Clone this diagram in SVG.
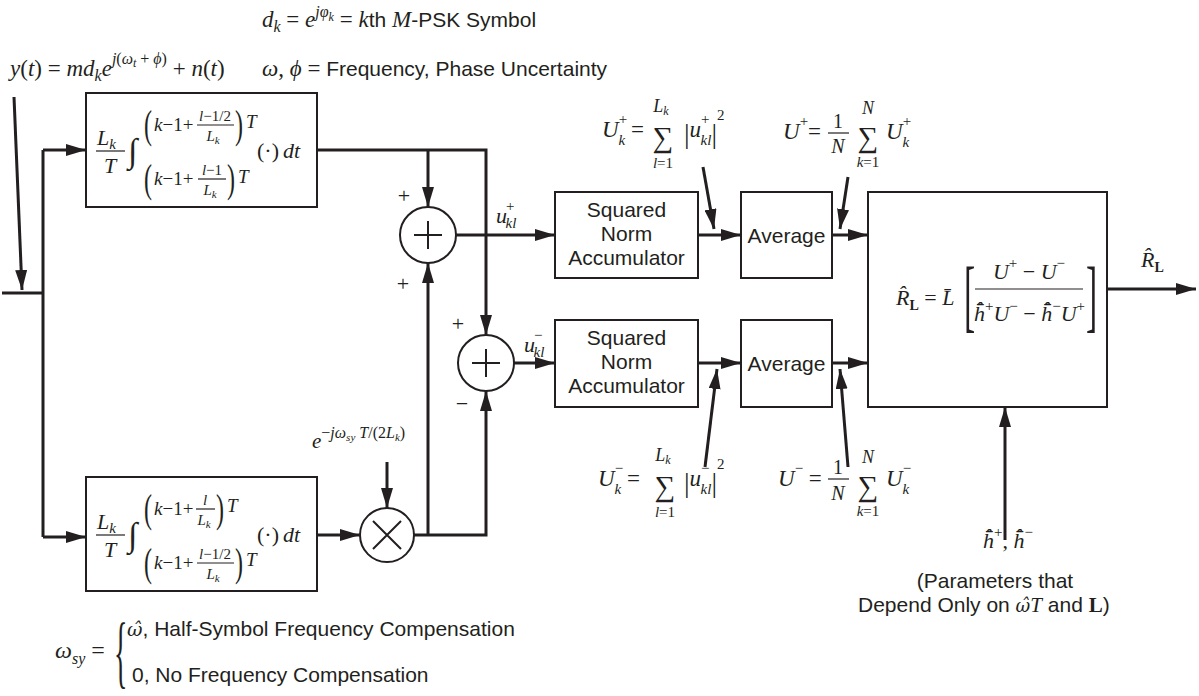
<svg xmlns="http://www.w3.org/2000/svg" width="1199" height="696" viewBox="0 0 1199 696">
<defs>
<marker id="ah" viewBox="0 0 20 12" refX="20" refY="6" markerWidth="20" markerHeight="12" markerUnits="userSpaceOnUse" orient="auto"><path d="M0,0 L20,6 L0,12 z" fill="#231f20"/></marker>
</defs>
<style>
text { fill: #231f20; }
.m { font-family: "Liberation Serif", "Times New Roman", serif; font-style: italic; }
.r { font-family: "Liberation Serif", "Times New Roman", serif; font-style: normal; }
.b { font-family: "Liberation Serif", "Times New Roman", serif; font-style: normal; font-weight: bold; }
.s { font-family: "Liberation Sans", Arial, sans-serif; font-style: normal; }
.g { font-family: "DejaVu Serif", "Liberation Serif", serif; font-style: italic; }
.c { text-anchor: middle; }
.box { fill: none; stroke: #231f20; stroke-width: 2; }
.ln { fill: none; stroke: #231f20; stroke-width: 3; }
.ar { marker-end: url(#ah); }
.th { stroke: #231f20; stroke-width: 1.2; }
.op { fill: none; stroke: #231f20; stroke-width: 2; }
</style>

<g id="header">
<text class="m" x="262" y="27" font-size="23">d<tspan font-size="16" dy="5">k</tspan><tspan class="r" dy="-5"> = </tspan>e<tspan font-size="16" dy="-10">jφ<tspan font-size="12" dy="4">k</tspan></tspan><tspan class="r" dy="6"> =  </tspan>k<tspan class="s" font-size="21">th </tspan>M<tspan class="s" font-size="21">-PSK Symbol</tspan></text>
<text class="m" x="10" y="76" font-size="23">y<tspan class="r">(</tspan>t<tspan class="r">) = </tspan>md<tspan font-size="16" dy="5">k</tspan><tspan dy="-5">e</tspan><tspan font-size="16" dy="-12">j<tspan class="r">(</tspan>ω<tspan font-size="12" dy="3">t</tspan><tspan class="r" dy="-3"> + </tspan>ϕ<tspan class="r">)</tspan></tspan><tspan class="r" dy="12"> + </tspan>n<tspan class="r">(</tspan>t<tspan class="r">)</tspan></text>
<text class="m" x="262" y="76" font-size="23">ω<tspan class="r">, </tspan>ϕ<tspan class="r"> =  </tspan><tspan class="s" font-size="21">Frequency, Phase Uncertainty</tspan></text>
</g>

<g id="connectors">
<path class="ln ar" d="M14,97 L22,290"/>
<path class="ln" d="M2,293 H43"/>
<path class="ln" d="M43,150 V537"/>
<path class="ln ar" d="M43,150 H86"/>
<path class="ln ar" d="M43,537 H86"/>
<path class="ln ar" d="M317,150 H486 V335"/>
<path class="ln ar" d="M428,150 V207"/>
<path class="ln ar" d="M317,535 H360"/>
<path class="ln ar" d="M414,535 H486 V391"/>
<path class="ln ar" d="M428,535 V263"/>
<path class="ln ar" d="M387,462 V508"/>
<path class="ln ar" d="M456,235 H555"/>
<path class="ln ar" d="M514,363 H555"/>
<path class="ln ar" d="M698,235 H741"/>
<path class="ln ar" d="M698,363 H741"/>
<path class="ln ar" d="M832,235 H868"/>
<path class="ln ar" d="M832,363 H868"/>
<path class="ln ar" d="M1107,289 H1196"/>
<path class="ln ar" d="M1005,540 V407"/>
<path class="ln ar" d="M703,167 L714,229"/>
<path class="ln ar" d="M848,177 L840,229"/>
<path class="ln ar" d="M705,467 L717,369"/>
<path class="ln ar" d="M848,467 L840,369"/>
</g>

<g id="integrator-top">
<rect class="box" x="86" y="93" width="231" height="114"/>
<text class="m" x="97" y="145" font-size="22">L<tspan font-size="15" dy="4">k</tspan></text>
<line class="th" x1="96" y1="151" x2="125" y2="151"/>
<text class="m" x="104" y="173" font-size="22">T</text>
<text class="r" x="128" y="162" font-size="34">∫</text>
<text class="r" transform="translate(144,138) scale(0.6,1)" font-size="40">(</text>
<text class="m" x="154" y="131" font-size="19">k<tspan class="r">−1+</tspan></text>
<text class="m c" x="215" y="121" font-size="15">l<tspan class="r">−1/2</tspan></text>
<line class="th" x1="197" y1="125" x2="234" y2="125"/>
<text class="m c" x="213" y="141" font-size="15">L<tspan font-size="11" dy="3">k</tspan></text>
<text class="r" transform="translate(235,138) scale(0.6,1)" font-size="40">)</text>
<text class="m" x="246" y="128" font-size="19">T</text>
<text class="r" x="257" y="158" font-size="22">(·)</text>
<text class="m" x="283" y="158" font-size="22">dt</text>
<text class="r" transform="translate(144,192) scale(0.6,1)" font-size="40">(</text>
<text class="m" x="154" y="185" font-size="19">k<tspan class="r">−1+</tspan></text>
<text class="m c" x="212" y="175" font-size="15">l<tspan class="r">−1</tspan></text>
<line class="th" x1="198" y1="179" x2="226" y2="179"/>
<text class="m c" x="210" y="195" font-size="15">L<tspan font-size="11" dy="3">k</tspan></text>
<text class="r" transform="translate(227,192) scale(0.6,1)" font-size="40">)</text>
<text class="m" x="238" y="183" font-size="19">T</text>
</g>

<g id="integrator-bottom">
<rect class="box" x="86" y="477" width="231" height="114"/>
<text class="m" x="97" y="529" font-size="22">L<tspan font-size="15" dy="4">k</tspan></text>
<line class="th" x1="96" y1="535" x2="125" y2="535"/>
<text class="m" x="104" y="557" font-size="22">T</text>
<text class="r" x="128" y="546" font-size="34">∫</text>
<text class="r" transform="translate(144,522) scale(0.6,1)" font-size="40">(</text>
<text class="m" x="154" y="515" font-size="19">k<tspan class="r">−1+</tspan></text>
<text class="m c" x="205" y="505" font-size="15">l</text>
<line class="th" x1="196" y1="509" x2="215" y2="509"/>
<text class="m c" x="204" y="525" font-size="15">L<tspan font-size="11" dy="3">k</tspan></text>
<text class="r" transform="translate(216,522) scale(0.6,1)" font-size="40">)</text>
<text class="m" x="227" y="512" font-size="19">T</text>
<text class="r" x="257" y="542" font-size="22">(·)</text>
<text class="m" x="283" y="542" font-size="22">dt</text>
<text class="r" transform="translate(144,576) scale(0.6,1)" font-size="40">(</text>
<text class="m" x="154" y="569" font-size="19">k<tspan class="r">−1+</tspan></text>
<text class="m c" x="215" y="559" font-size="15">l<tspan class="r">−1/2</tspan></text>
<line class="th" x1="197" y1="563" x2="234" y2="563"/>
<text class="m c" x="213" y="579" font-size="15">L<tspan font-size="11" dy="3">k</tspan></text>
<text class="r" transform="translate(235,576) scale(0.6,1)" font-size="40">)</text>
<text class="m" x="246" y="566" font-size="19">T</text>
</g>

<g id="multiplier">
<circle class="op" cx="387" cy="535" r="27"/>
<path class="op" d="M373,521 L401,549 M401,521 L373,549"/>
<text class="m" x="312" y="448" font-size="21">e<tspan font-size="16" dy="-10"><tspan class="r">−</tspan>jω<tspan font-size="11" dy="3">sy</tspan><tspan dy="-3"> T</tspan><tspan class="r">/(2</tspan>L<tspan font-size="11" dy="3">k</tspan><tspan class="r" dy="-3">)</tspan></tspan></text>
</g>

<g id="summer-plus">
<circle class="op" cx="428" cy="235" r="28"/>
<path class="op" d="M414,235 H442 M428,221 V249"/>
<text class="r c" x="404" y="203" font-size="22">+</text>
<text class="r c" x="403" y="291" font-size="22">+</text>
<text class="m" x="496" y="223" font-size="22">u<tspan class="r" font-size="15" dx="-1" dy="-12">+</tspan><tspan font-size="15" dx="-9" dy="17">kl</tspan></text>
</g>
<g id="summer-minus">
<circle class="op" cx="486" cy="363" r="28"/>
<path class="op" d="M472,363 H500 M486,349 V377"/>
<text class="r c" x="458" y="331" font-size="22">+</text>
<text class="r c" x="462" y="411" font-size="22">−</text>
<text class="m" x="524" y="352" font-size="22">u<tspan class="r" font-size="15" dx="-1" dy="-12">−</tspan><tspan font-size="15" dx="-9" dy="17">kl</tspan></text>
</g>

<g id="accumulator-plus">
<rect class="box" x="555" y="192" width="143" height="86"/>
<text class="s c" x="626.5" y="217" font-size="21">Squared</text>
<text class="s c" x="626.5" y="241" font-size="21">Norm</text>
<text class="s c" x="626.5" y="265" font-size="21">Accumulator</text>
</g>
<g id="accumulator-minus">
<rect class="box" x="555" y="320" width="143" height="87"/>
<text class="s c" x="626.5" y="345" font-size="21">Squared</text>
<text class="s c" x="626.5" y="369" font-size="21">Norm</text>
<text class="s c" x="626.5" y="393" font-size="21">Accumulator</text>
</g>

<g id="average-plus">
<rect class="box" x="741" y="192" width="91" height="86"/>
<text class="s c" x="786.5" y="243" font-size="21">Average</text>
</g>
<g id="average-minus">
<rect class="box" x="741" y="320" width="91" height="87"/>
<text class="s c" x="786.5" y="371" font-size="21">Average</text>
</g>

<g id="formula-Ukplus">
<text class="m" x="602" y="137" font-size="23">U<tspan class="r" font-size="15" dy="-13">+</tspan><tspan font-size="15" dx="-8.5" dy="21">k</tspan><tspan class="r" font-size="23" dy="-8"> =</tspan></text>
<text class="r c" x="663" y="147" font-size="29">∑<tspan class="m" x="661" y="112" font-size="18">L<tspan font-size="12" dy="3">k</tspan></tspan><tspan class="m" x="663" y="168" font-size="15">l<tspan class="r">=1</tspan></tspan></text>
<text class="m" x="684" y="143" font-size="28"><tspan class="r">|</tspan><tspan font-size="23" dy="-6">u</tspan><tspan class="r" font-size="15" dy="-13">+</tspan><tspan font-size="15" dx="-9" dy="21">kl</tspan><tspan class="r" dy="-2">|</tspan><tspan class="r" font-size="15" dy="-23">2</tspan></text>
</g>
<g id="formula-Uplus">
<text class="m" x="783" y="139" font-size="23">U<tspan class="r" font-size="15" dy="-13">+</tspan><tspan class="r" font-size="23" dy="13">=</tspan></text>
<text class="r c" x="838" y="128" font-size="20">1</text>
<line class="th" x1="828" y1="133" x2="849" y2="133"/>
<text class="m c" x="838" y="153" font-size="20">N</text>
<text class="r c" x="868" y="147" font-size="29">∑<tspan class="m" x="868" y="114" font-size="18">N</tspan><tspan class="m" x="868" y="167" font-size="15">k<tspan class="r">=1</tspan></tspan></text>
<text class="m" x="886" y="139" font-size="23">U<tspan class="r" font-size="15" dy="-13">+</tspan><tspan font-size="15" dx="-8.5" dy="21">k</tspan></text>
</g>
<g id="formula-Ukminus">
<text class="m" x="598" y="486" font-size="23">U<tspan class="r" font-size="15" dy="-13">−</tspan><tspan font-size="15" dx="-8.5" dy="21">k</tspan><tspan class="r" font-size="23" dy="-8"> =</tspan></text>
<text class="r c" x="665" y="496" font-size="29">∑<tspan class="m" x="663" y="461" font-size="18">L<tspan font-size="12" dy="3">k</tspan></tspan><tspan class="m" x="665" y="517" font-size="15">l<tspan class="r">=1</tspan></tspan></text>
<text class="m" x="684" y="492" font-size="28"><tspan class="r">|</tspan><tspan font-size="23" dy="-6">u</tspan><tspan class="r" font-size="15" dy="-13">−</tspan><tspan font-size="15" dx="-9" dy="21">kl</tspan><tspan class="r" dy="-2">|</tspan><tspan class="r" font-size="15" dy="-23">2</tspan></text>
</g>
<g id="formula-Uminus">
<text class="m" x="778" y="486" font-size="23">U<tspan class="r" font-size="15" dy="-13">−</tspan><tspan class="r" font-size="23" dy="13"> =</tspan></text>
<text class="r c" x="838" y="474" font-size="20">1</text>
<line class="th" x1="828" y1="479" x2="849" y2="479"/>
<text class="m c" x="838" y="500" font-size="20">N</text>
<text class="r c" x="868" y="496" font-size="29">∑<tspan class="m" x="868" y="463" font-size="18">N</tspan><tspan class="m" x="868" y="516" font-size="15">k<tspan class="r">=1</tspan></tspan></text>
<text class="m" x="886" y="486" font-size="23">U<tspan class="r" font-size="15" dy="-13">−</tspan><tspan font-size="15" dx="-8.5" dy="21">k</tspan></text>
</g>

<g id="estimator">
<rect class="box" x="868" y="192" width="239" height="215"/>
<text class="m" x="896" y="305" font-size="22">R̂<tspan class="b" font-size="14" dy="5">L</tspan><tspan class="r" dy="-5"> = </tspan>L̄</text>
<text class="r" transform="translate(964,322) scale(0.42,1)" font-size="80">[</text>
<text class="m c" x="1029" y="279" font-size="22">U<tspan class="r" font-size="15" dy="-11">+</tspan><tspan class="r" dy="11"> − </tspan>U<tspan class="r" font-size="15" dy="-11">−</tspan></text>
<line class="th" x1="975" y1="289" x2="1083" y2="289"/>
<text class="m" x="974" y="321" font-size="22">h̄̂<tspan class="r" font-size="15" dy="-10">+</tspan><tspan dy="10">U</tspan><tspan class="r" font-size="15" dy="-10">−</tspan><tspan class="r" dy="10"> − </tspan>h̄̂<tspan class="r" font-size="15" dy="-10">−</tspan><tspan dy="10">U</tspan><tspan class="r" font-size="15" dy="-10">+</tspan></text>
<text class="r" transform="translate(1086,322) scale(0.42,1)" font-size="80">]</text>
<text class="m" x="1141" y="267" font-size="22">R̂<tspan class="b" font-size="14" dy="5">L</tspan></text>
</g>

<g id="parameters">
<text class="m" x="983" y="548" font-size="22">h̄̂<tspan class="r" font-size="15" dy="-11">+</tspan><tspan class="r" dy="11">, </tspan>h̄̂<tspan class="r" font-size="15" dy="-11">−</tspan></text>
<text class="s c" x="995" y="588" font-size="21">(Parameters that</text>
<text class="s" x="858" y="612" font-size="21">Depend Only on <tspan class="g" font-size="18">ω̂</tspan><tspan class="m">T</tspan> and <tspan class="b">L</tspan>)</text>
</g>

<g id="omega-sy">
<text class="m" x="55" y="658" font-size="24">ω<tspan font-size="16" dy="6">sy</tspan><tspan class="r" font-size="24" dy="-6"> =</tspan></text>
<text class="r" transform="translate(114,678) scale(0.35,1)" font-size="80">{</text>
<text class="g" x="127" y="636" font-size="19">ω̂<tspan class="s" font-size="21">, Half-Symbol Frequency Compensation</tspan></text>
<text class="s" x="132" y="682" font-size="21">0, No Frequency Compensation</text>
</g>
</svg>
